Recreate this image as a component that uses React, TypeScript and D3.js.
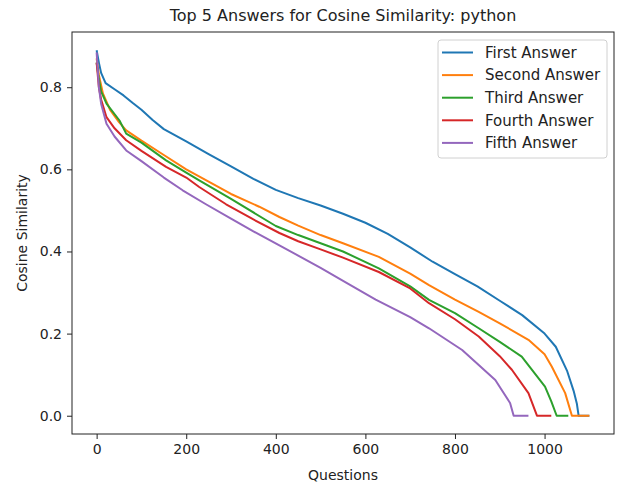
import React, { useEffect, useRef } from 'react';
import * as d3 from 'd3';

// [question index, cosine similarity], sorted descending per answer rank
const firstAnswer: [number, number][] = [
  [0, 0.89], [5, 0.86], [10, 0.835], [20, 0.81], [40, 0.795], [60, 0.78], [80, 0.762],
  [100, 0.745], [125, 0.72], [150, 0.698], [200, 0.668], [250, 0.637], [300, 0.607], [350, 0.577],
  [400, 0.55], [450, 0.53], [500, 0.512], [550, 0.492], [600, 0.47], [650, 0.443],
  [700, 0.41], [750, 0.375], [800, 0.345], [850, 0.315], [900, 0.28], [950, 0.245],
  [1000, 0.2], [1025, 0.168], [1050, 0.11], [1065, 0.06], [1072, 0.03], [1076, 0], [1100, 0],
];
const secondAnswer: [number, number][] = [
  [0, 0.87], [5, 0.83], [14, 0.785], [30, 0.745], [50, 0.715], [66, 0.695], [100, 0.67],
  [150, 0.635], [200, 0.6], [250, 0.57], [300, 0.54], [363, 0.509], [408, 0.484],
  [450, 0.463], [500, 0.44], [550, 0.42], [630, 0.387], [700, 0.346], [742, 0.318],
  [800, 0.283], [853, 0.253], [900, 0.225], [964, 0.185], [1000, 0.15], [1016, 0.12],
  [1046, 0.055], [1061, 0], [1100, 0],
];
const thirdAnswer: [number, number][] = [
  [0, 0.86], [5, 0.82], [10, 0.79], [22, 0.76], [51, 0.719], [66, 0.687], [100, 0.665],
  [155, 0.622], [200, 0.592], [229, 0.573], [300, 0.528], [400, 0.462], [450, 0.44],
  [500, 0.42], [550, 0.4], [630, 0.359], [700, 0.315], [742, 0.282], [800, 0.25],
  [853, 0.213], [900, 0.18], [949, 0.144], [1001, 0.071], [1015, 0.035], [1027, 0], [1053, 0],
];
const fourthAnswer: [number, number][] = [
  [0, 0.86], [5, 0.8], [10, 0.77], [22, 0.727], [40, 0.7], [66, 0.671], [100, 0.645],
  [155, 0.606], [200, 0.58], [229, 0.557], [289, 0.515], [350, 0.478], [408, 0.445],
  [450, 0.425], [500, 0.405], [550, 0.385], [630, 0.35], [700, 0.31], [742, 0.274],
  [800, 0.235], [853, 0.193], [900, 0.145], [927, 0.112], [964, 0.055], [983, 0], [1015, 0],
];
const fifthAnswer: [number, number][] = [
  [0, 0.885], [5, 0.8], [10, 0.76], [22, 0.711], [40, 0.68], [66, 0.646], [100, 0.62],
  [150, 0.58], [192, 0.549], [244, 0.515], [300, 0.48], [350, 0.449], [408, 0.415],
  [450, 0.39], [500, 0.36], [556, 0.325], [623, 0.283], [700, 0.24], [742, 0.213],
  [816, 0.16], [890, 0.087], [923, 0.031], [931, 0], [964, 0],
];

const seriesNames = ['First Answer', 'Second Answer', 'Third Answer', 'Fourth Answer', 'Fifth Answer'];
const seriesData = [firstAnswer, secondAnswer, thirdAnswer, fourthAnswer, fifthAnswer];
const seriesColors = ['#1f77b4', '#ff7f0e', '#2ca02c', '#d62728', '#9467bd'];

const xTicks = [0, 200, 400, 600, 800, 1000];
const yTicks = [0, 0.2, 0.4, 0.6, 0.8];

const FONT = "'DejaVu Sans', sans-serif";

const App = () => {
  const chartRef = useRef<SVGSVGElement>(null);

  useEffect(() => {
    const svg = d3.select(chartRef.current);
    svg.selectAll('*').remove();

    const box = { left: 72, right: 614, top: 32, bottom: 434 };

    // matplotlib style 5% margins
    const all = seriesData.flat();
    const xMax = d3.max(all, (d) => d[0]) as number;
    const yMax = d3.max(all, (d) => d[1]) as number;
    const x = d3.scaleLinear().domain([-xMax * 0.05, xMax * 1.05]).range([box.left, box.right]);
    const y = d3.scaleLinear().domain([-yMax * 0.05, yMax * 1.05]).range([box.bottom, box.top]);

    svg.append('rect').attr('width', 621).attr('height', 487).attr('fill', '#fff');

    const line = d3.line<[number, number]>().x((d) => x(d[0])).y((d) => y(d[1]));

    const clip = svg.append('defs').append('clipPath').attr('id', 'plot-clip');
    clip.append('rect')
      .attr('x', box.left).attr('y', box.top)
      .attr('width', box.right - box.left).attr('height', box.bottom - box.top);

    svg.append('g').attr('clip-path', 'url(#plot-clip)')
      .selectAll('path')
      .data(seriesData)
      .enter()
      .append('path')
      .attr('d', (d) => line(d))
      .attr('fill', 'none')
      .attr('stroke', (_, i) => seriesColors[i])
      .attr('stroke-width', 2)
      .attr('stroke-linejoin', 'round');

    // frame
    svg.append('rect')
      .attr('x', box.left).attr('y', box.top)
      .attr('width', box.right - box.left).attr('height', box.bottom - box.top)
      .attr('fill', 'none').attr('stroke', '#222').attr('stroke-width', 1);

    const xAxis = svg.append('g')
      .attr('transform', `translate(0,${box.bottom})`)
      .call(d3.axisBottom(x).tickValues(xTicks).tickSize(5).tickPadding(5).tickFormat(d3.format('d')));
    const yAxis = svg.append('g')
      .attr('transform', `translate(${box.left},0)`)
      .call(d3.axisLeft(y).tickValues(yTicks).tickSize(5).tickPadding(5).tickFormat(d3.format('.1f')));

    [xAxis, yAxis].forEach((g) => {
      g.select('.domain').remove();
      g.selectAll('line').attr('stroke', '#222');
      g.selectAll('text').attr('fill', '#222').style('font-family', FONT).style('font-size', '14px');
    });

    svg.append('text')
      .attr('x', (box.left + box.right) / 2).attr('y', 21)
      .attr('text-anchor', 'middle')
      .style('font-family', FONT).style('font-size', '16px').attr('fill', '#222')
      .text('Top 5 Answers for Cosine Similarity: python');

    svg.append('text')
      .attr('x', (box.left + box.right) / 2).attr('y', 480)
      .attr('text-anchor', 'middle')
      .style('font-family', FONT).style('font-size', '14px').attr('fill', '#222')
      .text('Questions');

    svg.append('text')
      .attr('transform', `translate(27,${(box.top + box.bottom) / 2}) rotate(-90)`)
      .attr('text-anchor', 'middle')
      .style('font-family', FONT).style('font-size', '14px').attr('fill', '#222')
      .text('Cosine Similarity');

    // legend
    const legend = svg.append('g');
    legend.append('rect')
      .attr('x', 438).attr('y', 40).attr('width', 169).attr('height', 118)
      .attr('rx', 3).attr('fill', '#fff').attr('fill-opacity', 0.8)
      .attr('stroke', '#d0d0d0').attr('stroke-width', 1);

    const rows = legend.selectAll('g.row')
      .data(seriesNames)
      .enter()
      .append('g')
      .attr('class', 'row')
      .attr('transform', (_, i) => `translate(0,${52.5 + i * 22.6})`);
    rows.append('line')
      .attr('x1', 442).attr('x2', 473)
      .attr('stroke', (_, i) => seriesColors[i]).attr('stroke-width', 2);
    rows.append('text')
      .attr('x', 485).attr('dy', '0.35em')
      .style('font-family', FONT).style('font-size', '15px').attr('fill', '#222')
      .text((d) => d);
  }, []);

  return (
    <svg
      ref={chartRef}
      width={621}
      height={487}
      style={{ position: 'absolute', left: 0, top: 0 }}
    ></svg>
  );
};

export default App;
